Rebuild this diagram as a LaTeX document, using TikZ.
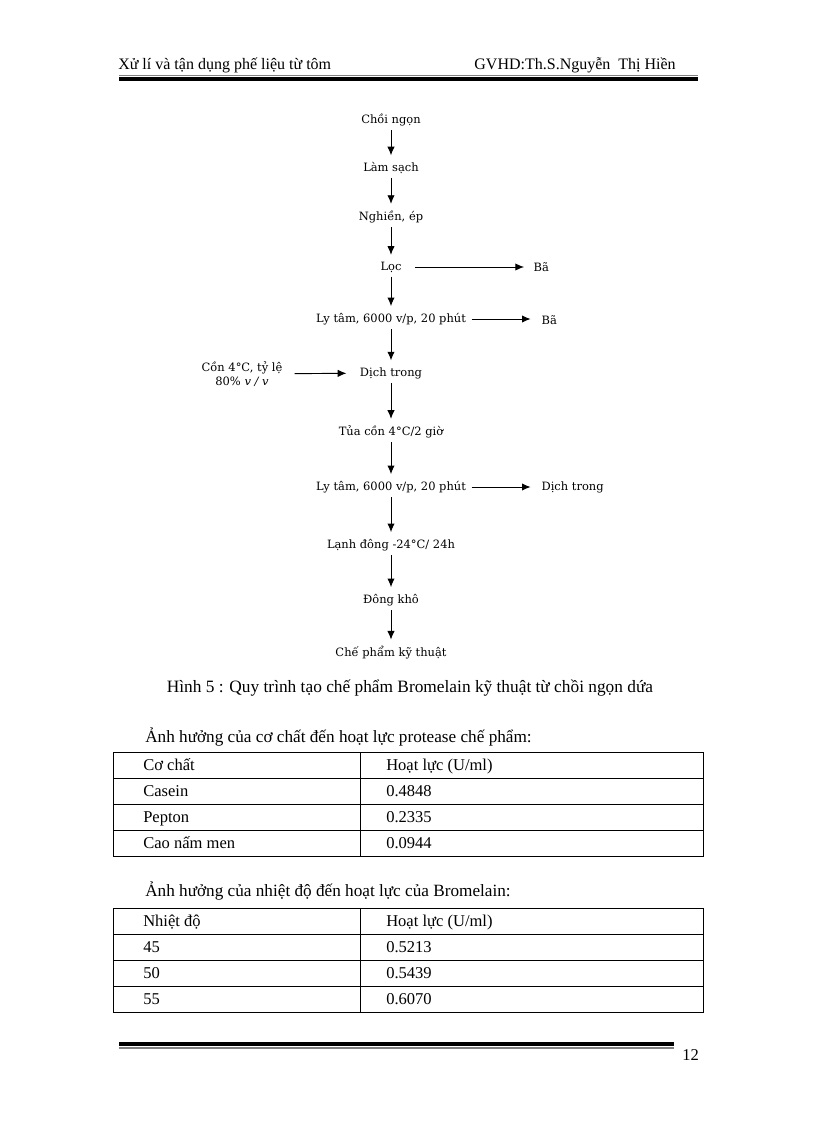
\documentclass[tikz,border=0pt]{standalone}
\usepackage{fontspec}
\setmainfont{Liberation Serif}
\newfontfamily\flowfont{DejaVu Serif}
\usetikzlibrary{arrows.meta}

\tikzset{
  stage/.style={font=\flowfont\fontsize{8.6}{10}\selectfont, inner sep=1pt},
  flow/.style={-{Latex[length=6.5pt,width=5.5pt]}, line width=0.7pt},
  cell/.style={anchor=base west, inner sep=0pt, font=\fontsize{12.4}{14}\selectfont},
  rule/.style={line width=0.75pt},
}

\begin{document}
\begin{tikzpicture}[x=0.75pt,y=-0.75pt]
  \useasboundingbox (0,0) rectangle (816,1123);
  % header
  \node[cell, font=\fontsize{12}{14}\selectfont] (hleft) at (118,70) {Xử lí và tận dụng phế liệu từ tôm};
  \node[cell, anchor=base east, font=\fontsize{12}{14}\selectfont] (hright) at (676,70) {GVHD:Th.S.Nguyễn\ \ Thị Hiền};
  \fill[gray] (119,75) rectangle (698,76.5);
  \fill (119,77) rectangle (698,81);

  % main line of the process
  \node[stage] (s1) at (391,120) {Chồi ngọn};
  \node[stage] (s2) at (391,168) {Làm sạch};
  \node[stage] (s3) at (391,217) {Nghiền, ép};
  \node[stage] (s4) at (391,267) {Lọc};
  \node[stage] (s5) at (391,319) {Ly tâm, 6000 v/p, 20 phút};
  \node[stage] (s6) at (391,373) {Dịch trong};
  \node[stage] (s7) at (391,432) {Tủa cồn 4°C/2 giờ};
  \node[stage] (s8) at (391,487) {Ly tâm, 6000 v/p, 20 phút};
  \node[stage] (s9) at (391,545) {Lạnh đông -24°C/ 24h};
  \node[stage] (s10) at (391,600) {Đông khô};
  \node[stage] (s11) at (391,653) {Chế phẩm kỹ thuật};
  \foreach \a/\b in {s1/s2,s2/s3,s3/s4,s4/s5,s5/s6,s6/s7,s7/s8,s8/s9,s9/s10,s10/s11}
    \draw[flow, shorten <=2pt, shorten >=4pt] (\a) -- (\b);

  % side streams
  \node[stage, anchor=west] (ba1) at (532,267) {Bã};
  \node[stage, anchor=west] (ba2) at (540,320) {Bã};
  \node[stage, anchor=west] (dich2) at (540,487) {Dịch trong};
  \node[stage, align=center] (con) at (242,374) {Cồn 4°C, tỷ lệ\\80\% {\itshape v / v}};
  \draw[flow, shorten <=9pt, shorten >=6pt] (s4) -- (ba1);
  \draw[flow, shorten <=3pt, shorten >=7pt] (s5.east) -- (ba2.west |- s5.east);
  \draw[flow, shorten <=3pt, shorten >=7pt] (s8) -- (dich2);
  \draw[flow, shorten <=8pt, shorten >=9pt] (con) -- (s6);

  % caption
  \node[cell, anchor=base, font=\fontsize{13}{15}\selectfont] (caption) at (410,692) {Hình 5 : Quy trình tạo chế phẩm Bromelain kỹ thuật từ chồi ngọn dứa};

  % table 1
  \node[cell, font=\fontsize{12.9}{15}\selectfont] (t1title) at (145,742) {Ảnh hưởng của cơ chất đến hoạt lực protease chế phẩm:};
  \draw[rule] (113,752) rectangle (703,856);
  \draw[rule] (360,752) -- (360,856);
  \foreach \y in {778,804,830} \draw[rule] (113,\y) -- (703,\y);
  \foreach \y/\p/\q [count=\i] in {770/Cơ chất/{Hoạt lực (U/ml)},796/Casein/0.4848,822/Pepton/0.2335,848/Cao nấm men/0.0944} {
    \node[cell] (a\i) at (143,\y) {\p};
    \node[cell] (b\i) at (386,\y) {\q};
  }

  % table 2
  \node[cell, font=\fontsize{12.9}{15}\selectfont] (t2title) at (145,896) {Ảnh hưởng của nhiệt độ đến hoạt lực của Bromelain:};
  \draw[rule] (113,908) rectangle (703,1012);
  \draw[rule] (360,908) -- (360,1012);
  \foreach \y in {934,960,986} \draw[rule] (113,\y) -- (703,\y);
  \foreach \y/\p/\q [count=\i] in {926/Nhiệt độ/{Hoạt lực (U/ml)},952/45/0.5213,978/50/0.5439,1004/55/0.6070} {
    \node[cell] (c\i) at (143,\y) {\p};
    \node[cell] (d\i) at (386,\y) {\q};
  }

  % footer
  \fill (119,1042) rectangle (674,1046);
  \fill[gray] (119,1047) rectangle (674,1048.5);
  \node[cell] (page) at (682,1060) {12};
\end{tikzpicture}
\end{document}
